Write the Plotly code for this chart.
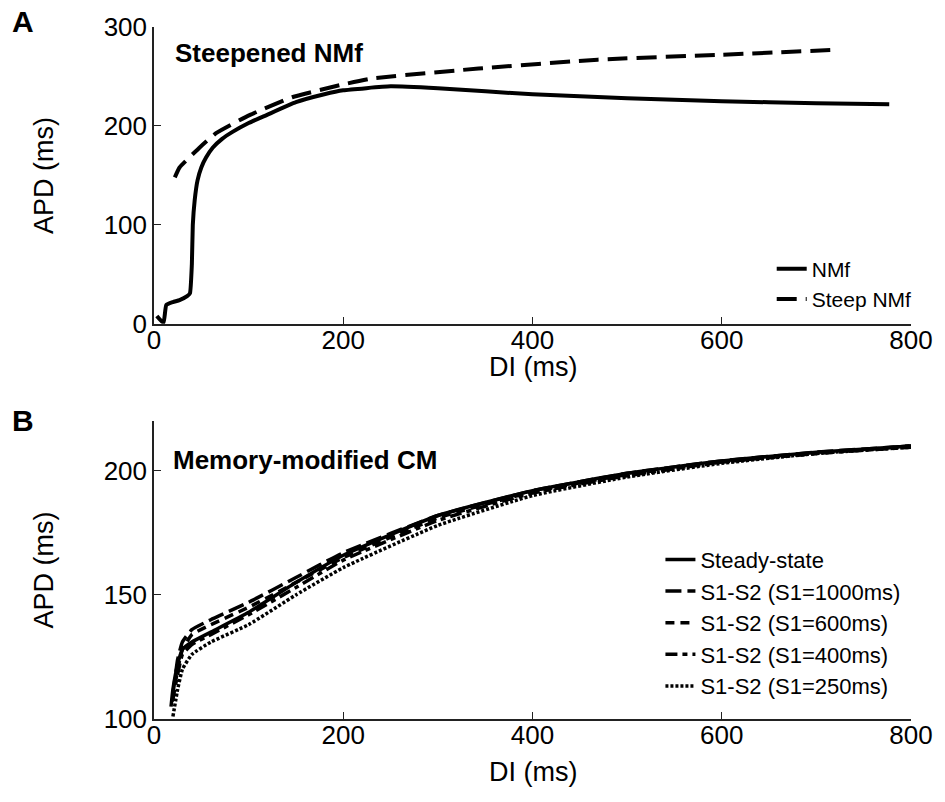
import plotly.graph_objects as go

# ---------- Panel A data ----------
nmf_di  = [3, 10, 13, 20, 27, 35, 38, 40, 41, 43, 46, 50, 55, 62, 72, 83, 100, 119, 150, 180, 200, 250, 300, 400, 500, 600, 700, 777]
nmf_apd = [8, 1, 19, 22, 24, 28, 31, 60, 100, 125, 145, 158, 168, 178, 187, 194, 203, 211, 224, 232, 236, 240, 238, 232, 228, 225, 223, 222]

steep_di  = [22, 27, 48, 66, 101, 146, 200, 230, 343, 469, 600, 723]
steep_apd = [148, 158, 178, 193, 211, 229, 242, 248, 258, 267, 272, 277]

# ---------- Panel B data ----------
ss_di   = [18, 20, 25, 30, 40, 60, 100, 150, 200, 300, 400, 500, 600, 700, 800]
ss_apd  = [105, 112, 122, 128, 131, 135, 143, 155, 166, 182, 192, 199, 204, 207.5, 210]

s1000_di  = [20, 25, 30, 40, 60, 100, 150, 200, 300, 400, 500, 600, 700, 800]
s1000_apd = [110, 124, 131, 136, 140, 147, 157, 167, 182, 192, 199, 204, 207.5, 210]

s600_di  = [20, 25, 30, 40, 60, 100, 150, 200, 300, 400, 500, 600, 700, 800]
s600_apd = [108, 120, 128, 134, 138, 145, 155, 165, 181, 191.5, 198.5, 203.5, 207, 210]

s400_di  = [19, 25, 30, 40, 60, 100, 150, 200, 300, 400, 500, 600, 700, 800]
s400_apd = [107, 118, 126, 130, 134, 142, 153, 164, 180, 191, 198, 203.5, 207, 209.5]

s250_di  = [20, 25, 30, 40, 60, 100, 150, 200, 300, 400, 500, 600, 700, 800]
s250_apd = [101, 112, 120, 126, 131, 138, 150, 161, 178, 190, 197.5, 203, 207, 209.5]

x_ticks = [0, 200, 400, 600, 800]
ya_ticks = [0, 100, 200, 300]
yb_ticks = [100, 150, 200]

FONT = "Arial, Liberation Sans, sans-serif"
BLACK = "#000000"
LEG_FONT = dict(family=FONT, size=22, color=BLACK)

fig = go.Figure()

fig.add_trace(go.Scatter(x=nmf_di, y=nmf_apd, mode="lines", name="NMf",
                         line=dict(color=BLACK, width=4, shape="spline", smoothing=0.4),
                         xaxis="x", yaxis="y", legend="legend"))
fig.add_trace(go.Scatter(x=steep_di, y=steep_apd, mode="lines", name="Steep NMf",
                         line=dict(color=BLACK, width=4, dash="20px,9px", shape="spline", smoothing=0.4),
                         xaxis="x", yaxis="y", legend="legend"))

b_series = [
    (ss_di, ss_apd, "Steady-state", "solid"),
    (s1000_di, s1000_apd, "S1-S2 (S1=1000ms)", "16px,6px"),
    (s600_di, s600_apd, "S1-S2 (S1=600ms)", "9px,6px"),
    (s400_di, s400_apd, "S1-S2 (S1=400ms)", "12px,5px,5px,5px"),
    (s250_di, s250_apd, "S1-S2 (S1=250ms)", "3px,2px"),
]
for xs, ys, nm, dsh in b_series:
    fig.add_trace(go.Scatter(x=xs, y=ys, mode="lines", name=nm,
                             line=dict(color=BLACK, width=3.5, dash=dsh, shape="spline", smoothing=0.4),
                             xaxis="x2", yaxis="y2", legend="legend2"))

axis_common = dict(showline=True, linecolor="#222222", linewidth=1.5, ticks="inside",
                   ticklen=7, tickwidth=1, tickcolor="#222222", showgrid=False, zeroline=False,
                   tickfont=dict(family=FONT, size=26, color=BLACK), mirror=False)
TFONT = dict(family=FONT, size=27, color=BLACK)

fig.update_layout(
    width=945, height=802,
    margin=dict(l=154, r=30, t=22, b=83),
    paper_bgcolor="white", plot_bgcolor="white",
    font=dict(family=FONT, color=BLACK),
    xaxis=dict(domain=[0, 1], range=[0, 800], tickvals=x_ticks, anchor="y",
               ticklabelstandoff=-8, **axis_common),
    yaxis=dict(domain=[0.571, 1.0], range=[0, 300], tickvals=ya_ticks, anchor="x",
               title=dict(text="APD (ms)", font=TFONT, standoff=42), **axis_common),
    xaxis2=dict(domain=[0, 1], range=[0, 800], tickvals=x_ticks, anchor="y2",
                ticklabelstandoff=-8, **axis_common),
    yaxis2=dict(domain=[0.0, 0.4304], range=[100, 220], tickvals=yb_ticks, anchor="x2",
                title=dict(text="APD (ms)", font=TFONT, standoff=42), **axis_common),
    legend=dict(x=0.816, xanchor="left", y=(719 - 281) / 697, yanchor="middle",
                bgcolor="rgba(0,0,0,0)", font=dict(family=FONT, size=21, color=BLACK),
                tracegroupgap=0),
    legend2=dict(x=0.669, xanchor="left", y=(719 - 622) / 697, yanchor="middle",
                 bgcolor="rgba(0,0,0,0)", font=LEG_FONT, tracegroupgap=0),
    showlegend=True,
)

annots = [
    dict(text="<b>A</b>", x=-0.173, y=1.008, size=30),
    dict(text="<b>B</b>", x=-0.173, y=0.431, size=30),
]
for a in annots:
    fig.add_annotation(xref="paper", yref="paper", xanchor="center", yanchor="middle",
                       showarrow=False, text=a["text"], x=a["x"], y=a["y"],
                       font=dict(family=FONT, size=a["size"], color=BLACK))

# x-axis titles
for yy in [(719 - 364) / 697, (719 - 772) / 697]:
    fig.add_annotation(xref="paper", yref="paper", x=0.5, y=yy, xanchor="center", yanchor="middle",
                       showarrow=False, text="DI (ms)", font=TFONT)

fig.add_annotation(xref="paper", yref="paper", x=0.025, y=0.962, xanchor="left", yanchor="middle",
                   showarrow=False, text="<b>Steepened NMf</b>", font=dict(family=FONT, size=26, color=BLACK))
fig.add_annotation(xref="paper", yref="paper", x=0.023, y=0.3745, xanchor="left", yanchor="middle",
                   showarrow=False, text="<b>Memory-modified CM</b>", font=dict(family=FONT, size=26, color=BLACK))

fig.write_html("out.html")
